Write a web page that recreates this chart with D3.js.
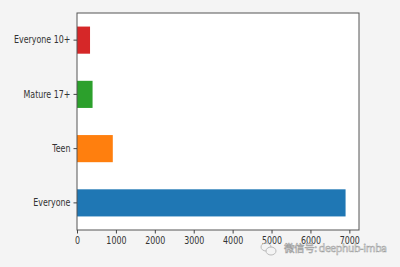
<!DOCTYPE html>
<html>
<head>
<meta charset="utf-8">
<script src="https://cdn.jsdelivr.net/npm/d3@7"></script>
<style>
  body { margin: 0; background: #f4f4f4; }
  svg { display: block; }
</style>
</head>
<body>
<script>
// content rating counts
var categories = ["Everyone", "Teen", "Mature 17+", "Everyone 10+"];
var counts = [6903, 920, 400, 335];
var colors = ["#1f77b4", "#ff7f0e", "#2ca02c", "#d62728"];
var xticks = [0, 1000, 2000, 3000, 4000, 5000, 6000, 7000];

var width = 400, height = 267;
var margin = {left: 77, right: 41, top: 13, bottom: 37};
var font = "DejaVu Sans Condensed, DejaVu Sans, sans-serif";

var svg = d3.select("body").append("svg")
    .attr("width", width)
    .attr("height", height);

svg.append("rect")
    .attr("width", width).attr("height", height)
    .attr("fill", "#f4f4f4");

var x = d3.scaleLinear()
    .domain([0, d3.max(counts) * 1.05])
    .range([margin.left, width - margin.right]);

// categories go bottom to top, like pandas barh
var y = d3.scaleBand()
    .domain(categories)
    .range([height - margin.bottom, margin.top])
    .paddingInner(0.5)
    .paddingOuter(0.25);

svg.append("rect")
    .attr("x", margin.left)
    .attr("y", margin.top)
    .attr("width", width - margin.left - margin.right)
    .attr("height", height - margin.top - margin.bottom)
    .attr("fill", "#fff");

svg.selectAll("rect.bar")
    .data(categories)
    .join("rect")
    .attr("class", "bar")
    .attr("x", x(0))
    .attr("y", d => y(d))
    .attr("width", (d, i) => x(counts[i]) - x(0))
    .attr("height", y.bandwidth())
    .attr("fill", (d, i) => colors[i]);

svg.append("rect")
    .attr("x", margin.left)
    .attr("y", margin.top)
    .attr("width", width - margin.left - margin.right)
    .attr("height", height - margin.top - margin.bottom)
    .attr("fill", "none")
    .attr("stroke", "#555")
    .attr("stroke-width", 1);

var xAxis = svg.append("g")
    .attr("transform", `translate(0,${height - margin.bottom})`)
    .call(d3.axisBottom(x).tickValues(xticks).tickSize(3.5).tickPadding(3).tickFormat(d3.format("d")));

var yAxis = svg.append("g")
    .attr("transform", `translate(${margin.left},0)`)
    .call(d3.axisLeft(y).tickSize(3.5).tickPadding(3));

[xAxis, yAxis].forEach(function(g) {
    g.select(".domain").remove();
    g.selectAll("line").attr("stroke", "#444");
    g.selectAll("text")
        .attr("fill", "#333")
        .style("font-family", font)
        .style("font-size", "10px");
});
// the labels in the picture are squeezed sideways
yAxis.selectAll("text").attr("x", -7.5).attr("transform", "scale(0.88,1)");
xAxis.selectAll("text").attr("transform", "scale(0.88,1)");

// watermark
var wm = svg.append("g").attr("transform", "translate(261,242)");
wm.append("ellipse").attr("cx", 5).attr("cy", 5).attr("rx", 5).attr("ry", 4)
    .attr("fill", "none").attr("stroke", "#bbb");
wm.append("ellipse").attr("cx", 10).attr("cy", 9).attr("rx", 5).attr("ry", 4)
    .attr("fill", "#f4f4f4").attr("stroke", "#bbb");
svg.append("text")
    .attr("x", 284).attr("y", 252)
    .attr("fill", "#fff")
    .attr("stroke", "#999")
    .attr("stroke-width", 0.5)
    .attr("textLength", 103)
    .style("font-family", "Noto Sans CJK SC, sans-serif")
    .style("font-size", "10.5px")
    .text("微信号: deephub-imba");
</script>
</body>
</html>
